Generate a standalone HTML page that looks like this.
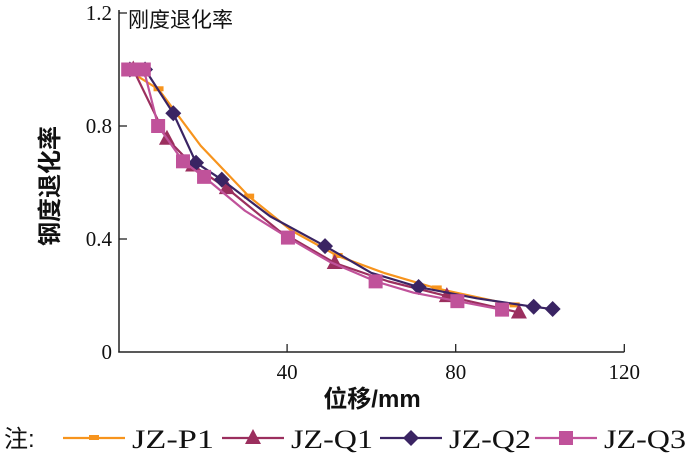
<!DOCTYPE html>
<html><head><meta charset="utf-8"><style>
body{margin:0;background:#fff}
svg{display:block}
text{font-family:"Liberation Serif","Noto Serif CJK SC",serif;fill:#111}
.cjk{font-family:"Liberation Sans","Noto Sans CJK SC",sans-serif}
</style></head><body>
<svg id="chart" width="700" height="462" viewBox="0 0 700 462">
<g id="axes"></g>
<g id="series"></g>
<text x="128" y="27" font-size="21" class="cjk">刚度退化率</text>
<text transform="translate(58,186) rotate(-90)" text-anchor="middle" font-size="24" font-weight="bold" class="cjk">钢度退化率</text>
<text x="372" y="407" text-anchor="middle" font-size="24" font-weight="bold" class="cjk">位移/mm</text>
<g id="legend"></g>
</svg>
<script>
const xTicks=[40,80,120];
const yTicks=[0,0.4,0.8,1.2];
const yTickLabels=["0","0.4","0.8","1.2"];
const seriesNames=["JZ-P1","JZ-Q1","JZ-Q2","JZ-Q3"];
const p1X=[2,9.5,19.5,31,41,52,63,75.5,94];
const p1Y=[1.0,0.93,0.73,0.55,0.43,0.34,0.28,0.225,0.165];
const q1X=[3.5,11.5,17.7,25.7,38,51.3,64,77.9,95];
const q1Y=[1.0,0.755,0.66,0.58,0.43,0.315,0.25,0.198,0.14];
const q2X=[2.7,6.3,13,18.4,24.5,36,49,60,71.2,85,98.5,103];
const q2Y=[1.0,1.0,0.845,0.67,0.61,0.48,0.375,0.28,0.23,0.19,0.16,0.152];
const q3X=[2.3,4,6,9.4,15.3,20.3,30,40.2,50,61,70,80.4,91];
const q3Y=[1.0,1.0,1.0,0.8,0.675,0.62,0.5,0.405,0.32,0.25,0.21,0.18,0.15];
const colors=["#f7941d","#9b2f5e","#3a2463","#c0529a"];
const markers=["dash","tri","dia","sq"];
const markerIdx=[[0,1,3,5,7,8],[0,1,2,3,5,7,8],[0,1,2,3,4,6,8,10,11],[0,1,2,3,4,5,7,9,11,12]];
const NS="http://www.w3.org/2000/svg";
const X0=118.5,XS=4.215,Y0=352,YS=282.5;
const sx=v=>X0+v*XS, sy=v=>Y0-v*YS;
function mk(tag,attrs,parent){const e=document.createElementNS(NS,tag);for(const k in attrs)e.setAttribute(k,attrs[k]);parent.appendChild(e);return e;}
const axes=document.getElementById('axes');
let ax=mk('line',{x1:119,y1:10,x2:119,y2:352.5,stroke:'#222','stroke-width':1.5},axes);


ax=mk('line',{x1:118.3,y1:352,x2:sx(120),y2:352,stroke:'#222','stroke-width':1.5},axes);


xTicks.forEach(t=>{
 const l=mk('line',{x1:sx(t),y1:352,x2:sx(t),y2:344,stroke:'#222','stroke-width':1.3},axes);
 
 
 const tx=mk('text',{x:sx(t),y:379,'text-anchor':'middle','font-size':21},axes);
 tx.textContent=t;
 
 
});
yTicks.forEach((t,i)=>{
 if(t>0){const l=mk('line',{x1:119,y1:sy(t),x2:127,y2:sy(t),stroke:'#222','stroke-width':1.3},axes);
 
 }
 const tx=mk('text',{x:112,y:sy(t)+7,'text-anchor':'end','font-size':21},axes);
 tx.textContent=yTickLabels[i];
 
 
});
function marker(type,x,y,c,parent){
 let e;
 if(type==='dash')e=mk('rect',{x:x-5,y:y-3,width:10,height:5,fill:c},parent);
 else if(type==='tri')e=mk('polygon',{points:`${x},${y-9} ${x-8},${y+6} ${x+8},${y+6}`,fill:c},parent);
 else if(type==='dia')e=mk('polygon',{points:`${x},${y-8} ${x+8},${y} ${x},${y+8} ${x-8},${y}`,fill:c},parent);
 else e=mk('rect',{x:x-7,y:y-7,width:14,height:14,fill:c},parent);
 return e;
}
const sg=document.getElementById('series');
const data=[[p1X,p1Y],[q1X,q1Y],[q2X,q2Y],[q3X,q3Y]];
data.forEach((d,i)=>{
 const g=mk('g',{},sg);
 
 
 const pts=d[0].map((x,j)=>sx(x)+','+sy(d[1][j])).join(' ');
 const pl=mk('polyline',{points:pts,fill:'none',stroke:colors[i],'stroke-width':2.2,'stroke-linejoin':'round'},g);
 
 
 markerIdx[i].forEach(j=>{
  const m=marker(markers[i],sx(d[0][j]),sy(d[1][j]),colors[i],g);
  
  
 });
});
const lg=document.getElementById('legend');
const note=mk('text',{x:4,y:447,'font-size':24},lg);
note.setAttribute('class','cjk');
note.textContent='注:';


const lx=[63,222,380,535];
seriesNames.forEach((n,i)=>{
 const g=mk('g',{},lg);
 
 
 mk('line',{x1:lx[i],y1:438,x2:lx[i]+62,y2:438,stroke:colors[i],'stroke-width':2.2},g);
 marker(markers[i],lx[i]+31,438,colors[i],g);
 const t=mk('text',{x:lx[i]+69,y:448,'font-size':26,textLength:82,lengthAdjust:'spacingAndGlyphs'},g);
 t.textContent=n;
});
</script>
</body></html>
